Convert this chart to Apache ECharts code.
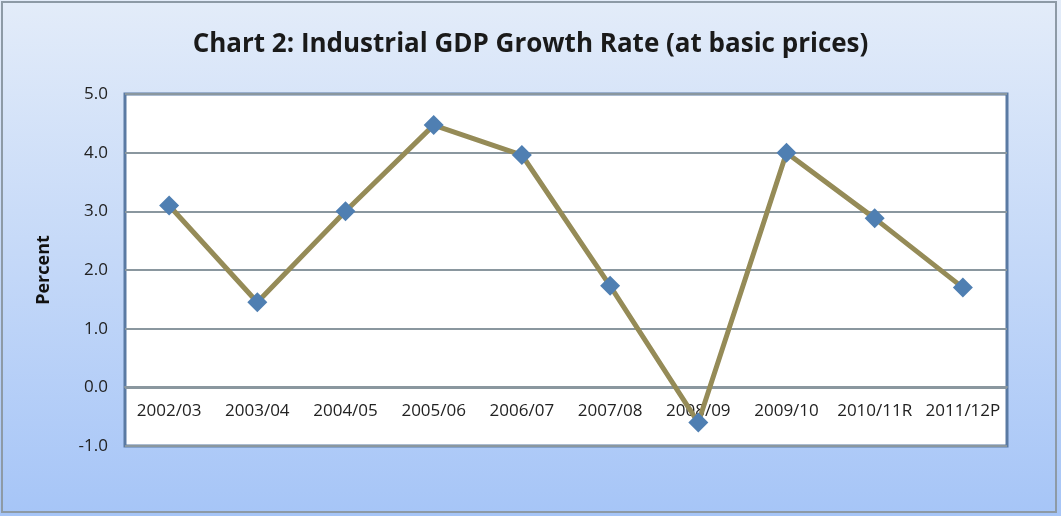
<!DOCTYPE html>
<html>
<head>
<meta charset="utf-8">
<script src="https://cdn.jsdelivr.net/npm/echarts@6/dist/echarts.min.js"></script>
<style>
html, body { margin: 0; padding: 0; background: #fff; }
#main { width: 1061px; height: 516px; }
</style>
</head>
<body>
<div id="main"></div>
<script>
var chartTitle = 'Chart 2: Industrial GDP Growth Rate (at basic prices)';
var categories = ['2002/03','2003/04','2004/05','2005/06','2006/07','2007/08','2008/09','2009/10','2010/11R','2011/12P'];
var growthRate = [3.1, 1.45, 3.0, 4.47, 3.96, 1.73, -0.6, 4.0, 2.88, 1.7];
var yMin = -1, yMax = 5, yStep = 1;

var chart = echarts.init(document.getElementById('main'));
var option = {
    backgroundColor: new echarts.graphic.LinearGradient(0, 0, 0, 1, [
        {offset: 0, color: '#e3ecf9'},
        {offset: 1, color: '#a6c5f7'}
    ]),
    graphic: [{
        type: 'rect',
        shape: {x: 2, y: 2, width: 1054, height: 510},
        style: {fill: 'none', stroke: '#8d9aa6', lineWidth: 2},
        silent: true
    }],
    title: {
        text: chartTitle,
        left: 'center',
        top: 27,
        textStyle: {
            fontFamily: 'Open Sans',
            fontWeight: 'bold',
            fontSize: 26,
            color: '#1a1a1a'
        }
    },
    grid: {
        left: 125,
        right: 54,
        top: 94,
        bottom: 70,
        show: true,
        backgroundColor: '#ffffff',
        borderColor: '#5a7aa3',
        borderWidth: 3
    },
    xAxis: {
        type: 'category',
        data: categories,
        boundaryGap: true,
        offset: -59,
        axisLine: {
            lineStyle: {color: '#8a979f', width: 2}
        },
        axisTick: {show: false},
        axisLabel: {
            margin: 16,
            interval: 0,
            fontFamily: 'Open Sans',
            fontSize: 17,
            color: '#222'
        }
    },
    yAxis: {
        type: 'value',
        min: yMin,
        max: yMax,
        interval: yStep,
        name: 'Percent',
        nameLocation: 'middle',
        nameGap: 72,
        nameRotate: 90,
        nameTextStyle: {
            fontFamily: 'Open Sans',
            fontWeight: 'bold',
            fontSize: 18,
            color: '#111'
        },
        axisLine: {show: false},
        axisTick: {show: false},
        axisLabel: {
            margin: 17,
            fontFamily: 'Open Sans',
            fontSize: 17,
            color: '#222',
            formatter: function (v) { return v.toFixed(1); }
        },
        splitLine: {
            lineStyle: {color: '#8a979f', width: 2}
        }
    },
    series: [{
        type: 'line',
        data: growthRate,
        symbol: 'diamond',
        symbolSize: 20,
        lineStyle: {color: '#958b57', width: 5},
        itemStyle: {color: '#4f7fb2'},
        z: 5
    }]
};
chart.setOption(option);
</script>
</body>
</html>
